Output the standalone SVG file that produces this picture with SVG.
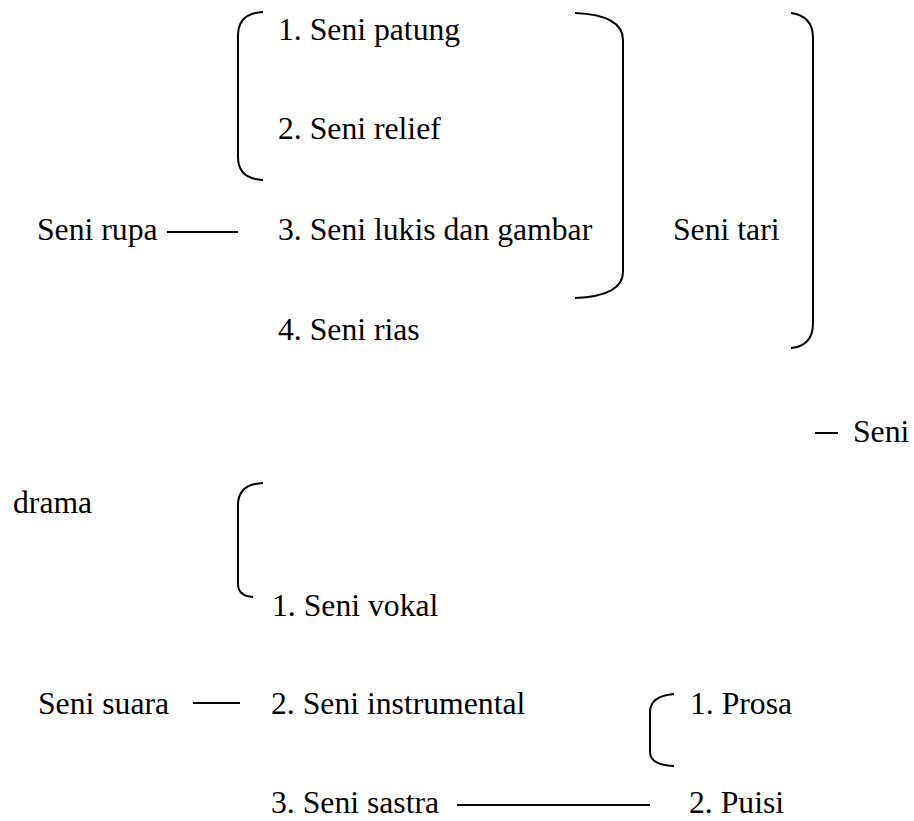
<svg xmlns="http://www.w3.org/2000/svg" width="914" height="821" viewBox="0 0 914 821">
<style>
text{font-family:'Liberation Serif',Tinos,'Times New Roman',Times,'DejaVu Serif',serif;font-size:31.7px;fill:#000}
.br,.ln{fill:none;stroke:#000;stroke-width:2}
</style>
<rect width="914" height="821" fill="#fff"/>
<g id="connectors">
<line class="ln" x1="167" y1="232" x2="238" y2="232"/>
<line class="ln" x1="815" y1="433" x2="838" y2="433"/>
<line class="ln" x1="193" y1="703" x2="240" y2="703"/>
<line class="ln" x1="457" y1="805" x2="650" y2="805"/>
<path class="br" d="M263,12 Q238,13 238,36 L238,157 Q238,179 263,180"/>
<path class="br" d="M575,13 Q623,15 623,40 L623,272 Q623,296 575,298"/>
<path class="br" d="M791,13 Q813,16 813,38 L813,323 Q813,346 791,348"/>
<path class="br" d="M263,483 Q238,484 238,505 L238,584 Q238,596 253,597"/>
<path class="br" d="M674,694 Q650,696 650,712 L650,752 Q650,765 674,766"/>
</g>
<g id="seni-rupa"><text x="37" y="240" font-family="Liberation Serif">Seni rupa</text></g>
<g id="patung"><text x="278" y="40">1. Seni patung</text></g>
<g id="relief"><text x="278" y="139">2. Seni relief</text></g>
<g id="lukis"><text x="278" y="240">3. Seni lukis dan gambar</text></g>
<g id="rias"><text x="278" y="340">4. Seni rias</text></g>
<g id="seni-tari"><text x="673" y="240">Seni tari</text></g>
<g id="seni-drama"><text x="853" y="442">Seni</text><text x="13" y="513">drama</text></g>
<g id="vokal"><text x="272" y="616">1. Seni vokal</text></g>
<g id="seni-suara"><text x="38" y="714">Seni suara</text></g>
<g id="instrumental"><text x="271" y="714">2. Seni instrumental</text></g>
<g id="prosa"><text x="690" y="714">1. Prosa</text></g>
<g id="sastra"><text x="271" y="813">3. Seni sastra</text></g>
<g id="puisi"><text x="689" y="813">2. Puisi</text></g>
</svg>
